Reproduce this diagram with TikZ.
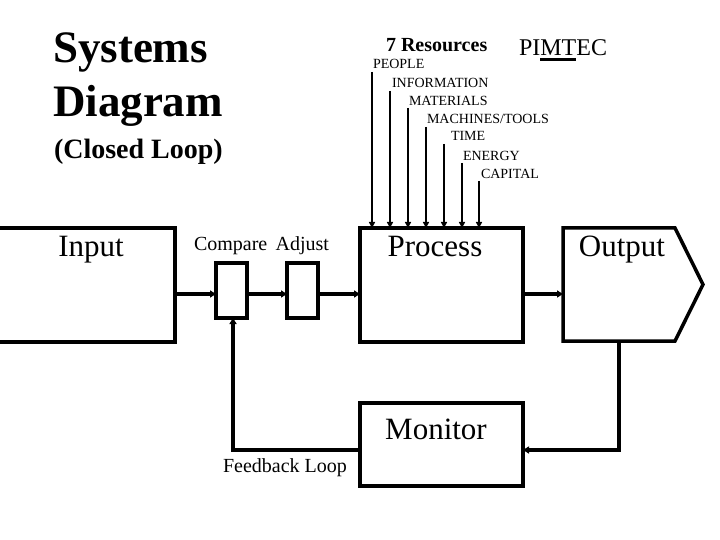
\documentclass[tikz,border=0pt]{standalone}
\usepackage{fontspec}
\setmainfont{Liberation Serif}
\usetikzlibrary{arrows.meta,calc}
\begin{document}
\begin{tikzpicture}[x=1bp,y=-1bp,
  box/.style={draw, line width=3.5bp, rectangle, inner sep=0, outer sep=0},
  main/.style={line width=3.5bp, -{Triangle[length=6bp,width=7bp]}},
  plain/.style={line width=3.5bp},
  res/.style={line width=2.2bp, -{Triangle[length=6bp,width=6bp]}},
  txt/.style={inner sep=0, outer sep=0, anchor=base west},
  ctxt/.style={inner sep=0, outer sep=0, anchor=base},
  big/.style={font=\fontsize{31bp}{36bp}\selectfont},
  small/.style={font=\fontsize{14bp}{16bp}\selectfont},
  mid/.style={font=\fontsize{20bp}{24bp}\selectfont}
]
\fill[white] (0,0) rectangle (720,540);
\useasboundingbox (0,0) rectangle (720,540);

% titles
\node[txt, font=\fontsize{45bp}{50bp}\selectfont\bfseries] (t1) at (53,63) {Systems};
\node[txt, font=\fontsize{45bp}{50bp}\selectfont\bfseries] (t2) at (53,117) {Diagram};
\node[txt, font=\fontsize{28bp}{32bp}\selectfont\bfseries] (t3) at (54,159) {(Closed Loop)};

% resources
\node[txt, font=\fontsize{20bp}{24bp}\selectfont\bfseries] (r7t) at (386,52) {7 Resources};
\node[txt, font=\fontsize{24bp}{28bp}\selectfont] (pimtec) at (519,56) {PIMTEC};
\draw[line width=2.5bp] ($(pimtec.base west)+(21.3,3.5)$) -- ($(pimtec.base west)+(57.3,3.5)$);

\node[txt, small] (l1) at (373,69) {PEOPLE};
\node[txt, small] (l2) at (392,88) {INFORMATION};
\node[txt, small] (l3) at (409,106) {MATERIALS};
\node[txt, small] (l4) at (427,124) {MACHINES/TOOLS};
\node[txt, small] (l5) at (451,141) {TIME};
\node[txt, small] (l6) at (463,161) {ENERGY};
\node[txt, small] (l7) at (481,179) {CAPITAL};

\coordinate (r1) at (372,72);
\coordinate (r2) at (390,91);
\coordinate (r3) at (408,108);
\coordinate (r4) at (426,127);
\coordinate (r5) at (444,144);
\coordinate (r6) at (462,163);
\coordinate (r7) at (479,181);

% boxes
\node[box, minimum width=180bp, minimum height=114bp] (input) at (85,285) {};
\node[box, minimum width=31bp, minimum height=55bp] (compare) at (231.5,290.5) {};
\node[box, minimum width=31bp, minimum height=55bp] (adjust) at (302.5,290.5) {};
\node[box, minimum width=163bp, minimum height=114bp] (process) at (441.5,285) {};
\node[inner sep=0, outer sep=0, minimum width=112bp, minimum height=113bp] (output) at (619,284.5) {};
\draw[line width=3.5bp, line join=miter]
  (output.north west) -- (output.north east) -- ($(output.east)+(28,0)$)
  -- (output.south east) -- (output.south west) -- cycle;
\node[box, minimum width=163bp, minimum height=83bp] (monitor) at (441.5,444.5) {};

% box texts
\node[ctxt, big] (tin) at (91,257) {Input};
\node[ctxt, big] (tpr) at (435,257) {Process};
\node[ctxt, big] (tout) at (622,257) {Output};
\node[ctxt, big] (tmon) at (436,439) {Monitor};
\node[txt, mid] (tcmp) at (194,251) {Compare};
\node[txt, mid, anchor=base east] (tadj) at (329,251) {Adjust};
\node[txt, mid] (tfb) at (223,472) {Feedback Loop};

% resource arrows
\foreach \i in {1,...,7} {
  \draw[res] (r\i) -- (r\i |- process.north);
}

% main line
\coordinate (ml) at (0,294);
\draw[main] (input.east |- ml) -- (compare.west |- ml);
\draw[main] (compare.east |- ml) -- (adjust.west |- ml);
\draw[main] (adjust.east |- ml) -- (process.west |- ml);
\draw[main] (process.east |- ml) -- (output.west |- ml);

% feedback
\coordinate (fbR) at (619,450);
\coordinate (fbL) at (233,450);
\draw[main, line join=miter] (output.south) -- (fbR) -- (monitor.east |- fbR);
\draw[main, line join=miter] (monitor.west |- fbL) -- (fbL) -- (fbL |- compare.south);
\end{tikzpicture}
\end{document}
